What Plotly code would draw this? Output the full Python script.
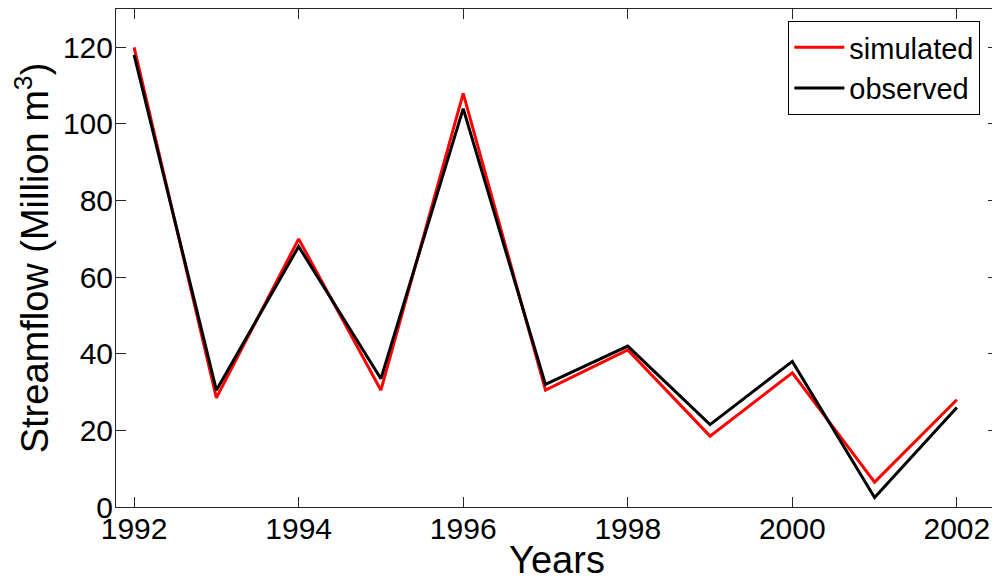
import plotly.graph_objects as go

years = [1992, 1993, 1994, 1995, 1996, 1997, 1998, 1999, 2000, 2001, 2002]
simulated = [120, 28.5, 70, 30.5, 108, 30.5, 41, 18.5, 35, 6.5, 28]
observed = [118, 30.5, 68, 33.5, 104, 32, 42, 21.5, 38, 2.5, 26]

x_ticks = [1992, 1994, 1996, 1998, 2000, 2002]
y_ticks = [0, 20, 40, 60, 80, 100, 120]

font = "Liberation Sans, Arial, sans-serif"
axis_color = "#262626"

fig = go.Figure()
fig.add_trace(go.Scatter(x=years, y=simulated, mode="lines", name="simulated",
                         line=dict(color="#ff0000", width=3)))
fig.add_trace(go.Scatter(x=years, y=observed, mode="lines", name="observed",
                         line=dict(color="#000000", width=3)))

axis_common = dict(
    showgrid=False, zeroline=False, showline=True, linecolor=axis_color, linewidth=1,
    mirror="ticks", ticks="inside", ticklen=10, tickcolor=axis_color, tickwidth=1,
    tickfont=dict(family=font, size=30, color="black"),
)

fig.update_xaxes(
    range=[1991.78, 2002.5], tickvals=x_ticks, ticklabelstandoff=-5,
    title=dict(text="Years", font=dict(family=font, size=38, color="black"), standoff=6),
    **axis_common,
)
fig.update_yaxes(
    range=[0, 130], tickvals=y_ticks, ticklabelstandoff=-4,
    title=dict(text="Streamflow (Million m<sup>3</sup>)",
               font=dict(family=font, size=38, color="black"), standoff=4),
    **axis_common,
)

# the page body adds an 8px offset, so the figure is sized to the visible area
fig.update_layout(
    width=992, height=573,
    margin=dict(l=108, r=2, t=1, b=74, autoexpand=False),
    plot_bgcolor="white", paper_bgcolor="white",
    showlegend=True,
    legend=dict(
        x=0.98, y=0.976, xanchor="right", yanchor="top",
        bgcolor="white", bordercolor="black", borderwidth=1,
        font=dict(family=font, size=29, color="black"),
        tracegroupgap=0, itemwidth=50,
    ),
)

fig.write_html("out.html")
